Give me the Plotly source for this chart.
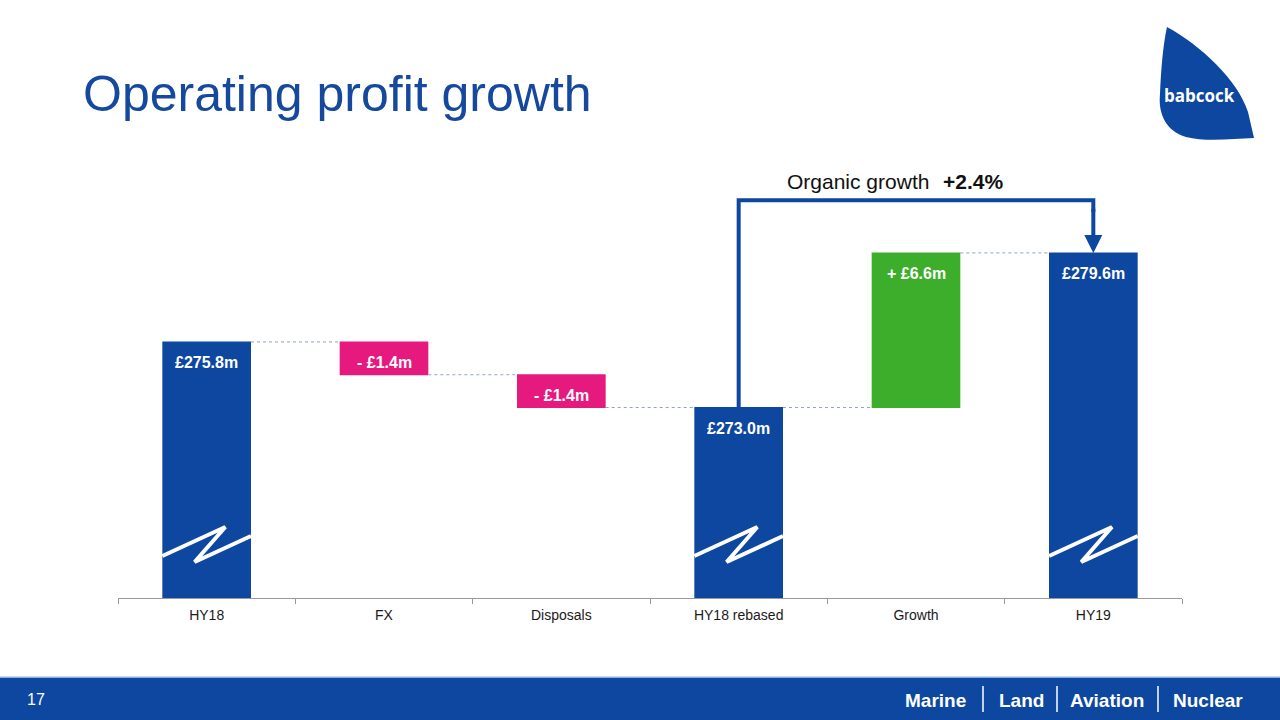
import plotly.graph_objects as go

# ---- data ----
categories = ["HY18", "FX", "Disposals", "HY18 rebased", "Growth", "HY19"]
measures = ["absolute", "relative", "relative", "total", "relative", "total"]
values = [275.8, -1.4, -1.4, 0, 6.6, 0]
bar_labels = ["£275.8m", "- £1.4m", "- £1.4m", "£273.0m", "+ £6.6m", "£279.6m"]
label_tops = [275.8, 275.8, 274.4, 273.0, 279.6, 279.6]
organic_growth_label = "+2.4%"

# ---- style ----
BLUE = "#0D479F"
PINK = "#E5197E"
GREEN = "#3DAE2B"
TITLE_BLUE = "#15499E"
FONT = "Liberation Sans, Arial, sans-serif"
Y_RANGE = [264.87, 284.42]
BRACKET_Y = 281.85
W, H = 1280, 720


def px(x):
    return x / W


def py(y):
    return 1 - y / H


fig = go.Figure()
fig.add_trace(go.Waterfall(
    x=categories,
    y=values,
    measure=measures,
    increasing=dict(marker=dict(color=GREEN)),
    decreasing=dict(marker=dict(color=PINK)),
    totals=dict(marker=dict(color=BLUE)),
    connector=dict(mode="between", line=dict(color="#8FA3C7", width=1, dash="dot")),
    showlegend=False,
    hoverinfo="skip",
))

annotations = []
shapes = []

# value labels
for cat, lab, top in zip(categories, bar_labels, label_tops):
    annotations.append(dict(
        x=cat, y=top, xref="x", yref="y", text=f"<b>{lab}</b>", showarrow=False,
        xanchor="center", yanchor="top", yshift=-10,
        font=dict(family=FONT, size=16, color="white"),
    ))

# axis-break zigzags on the total bars
zz_dx = [-0.25, 0.105, -0.068, 0.25]
zz_y = [556, 527, 562, 536]
for i, m in enumerate(measures):
    if m in ("absolute", "total"):
        pts = [(i + dx, py(yy)) for dx, yy in zip(zz_dx, zz_y)]
        path = "M " + " L ".join(f"{a},{b}" for a, b in pts)
        shapes.append(dict(type="path", path=path, xref="x", yref="paper",
                           line=dict(color="white", width=4)))

# organic growth bracket
i_reb = categories.index("HY18 rebased")
i_end = categories.index("HY19")
shapes.append(dict(
    type="path", xref="x", yref="y",
    path=f"M {i_reb},{label_tops[3]} L {i_reb},{BRACKET_Y} L {i_end},{BRACKET_Y} L {i_end},{BRACKET_Y - 0.5}",
    line=dict(color=BLUE, width=4),
))
annotations.append(dict(
    x=i_end, y=label_tops[5], ax=i_end, ay=BRACKET_Y - 0.3,
    xref="x", yref="y", axref="x", ayref="y",
    showarrow=True, arrowhead=2, arrowsize=0.9, arrowwidth=4, arrowcolor=BLUE, text="",
))
annotations.append(dict(
    x=px(931), y=py(181), xref="paper", yref="paper", xanchor="right", yanchor="middle",
    text="Organic growth", showarrow=False, font=dict(family=FONT, size=21, color="#111111"),
))
annotations.append(dict(
    x=px(941), y=py(181), xref="paper", yref="paper", xanchor="left", yanchor="middle",
    text=f"<b>{organic_growth_label}</b>", showarrow=False,
    font=dict(family=FONT, size=21, color="#111111"),
))

# title
annotations.append(dict(
    x=px(81), y=py(94), xref="paper", yref="paper", xanchor="left", yanchor="middle",
    text="Operating profit growth", showarrow=False,
    font=dict(family=FONT, size=50, color=TITLE_BLUE),
))

# logo (teardrop)
logo_pts = [
    ("M", [(1167, 27)]),
    ("C", [(1200, 45), (1238, 80), (1248, 112)]),
    ("L", [(1254, 138)]),
    ("C", [(1232, 139), (1205, 142), (1186, 137)]),
    ("C", [(1166, 131), (1158, 114), (1160, 94)]),
    ("C", [(1161, 70), (1163, 45), (1167, 27)]),
]
logo_path = " ".join(cmd + " " + " ".join(f"{px(a):.5f},{py(b):.5f}" for a, b in p)
                     for cmd, p in logo_pts) + " Z"
shapes.append(dict(type="path", path=logo_path, xref="paper", yref="paper",
                   fillcolor=BLUE, line=dict(width=0)))
annotations.append(dict(
    x=px(1199), y=py(96), xref="paper", yref="paper", xanchor="center", yanchor="middle",
    text="<b>babcock</b>", showarrow=False,
    font=dict(family="Open Sans, sans-serif", size=17, color="white"),
))

# footer band
shapes.append(dict(type="rect", xref="paper", yref="paper", x0=0, x1=1, y0=py(720), y1=py(678),
                   fillcolor=BLUE, line=dict(width=0), layer="above"))
shapes.append(dict(type="rect", xref="paper", yref="paper", x0=0, x1=1, y0=py(678), y1=py(676.5),
                   fillcolor="#8DB0DD", line=dict(width=0), layer="above"))
annotations.append(dict(
    x=px(25), y=py(699), xref="paper", yref="paper", xanchor="left", yanchor="middle",
    text="17", showarrow=False, font=dict(family=FONT, size=16, color="white"),
))
footer_words = ["Marine", "Land", "Aviation", "Nuclear"]
footer_centers = [935, 1021, 1107, 1208]
for wd, cx in zip(footer_words, footer_centers):
    annotations.append(dict(
        x=px(cx), y=py(700), xref="paper", yref="paper", xanchor="center", yanchor="middle",
        text=f"<b>{wd}</b>", showarrow=False, font=dict(family=FONT, size=19, color="white"),
    ))
for sx in [983, 1057, 1158]:
    shapes.append(dict(type="line", xref="paper", yref="paper", x0=px(sx), x1=px(sx),
                       y0=py(686), y1=py(712), line=dict(color="white", width=1.5), layer="above"))

fig.update_layout(
    width=W, height=H,
    margin=dict(l=0, r=0, t=0, b=0),
    paper_bgcolor="white", plot_bgcolor="white",
    showlegend=False,
    waterfallgap=0.5,
    xaxis=dict(
        domain=[px(118), px(1182)], type="category", range=[-0.5, 5.5],
        tickson="boundaries", ticks="outside", ticklen=5, tickcolor="#9a9a9a",
        ticklabelstandoff=4,
        showline=True, linecolor="#9a9a9a", linewidth=1, showgrid=False,
        tickfont=dict(family=FONT, size=14, color="#1a1a1a"),
        fixedrange=True,
    ),
    yaxis=dict(
        domain=[py(598), py(140)], range=Y_RANGE, visible=False, showgrid=False,
        zeroline=False, fixedrange=True,
    ),
    shapes=shapes,
    annotations=annotations,
)

fig.write_html(
    "out.html",
    config={"displayModeBar": False},
    post_script="document.body.style.margin='0';document.body.style.overflow='hidden';",
)
